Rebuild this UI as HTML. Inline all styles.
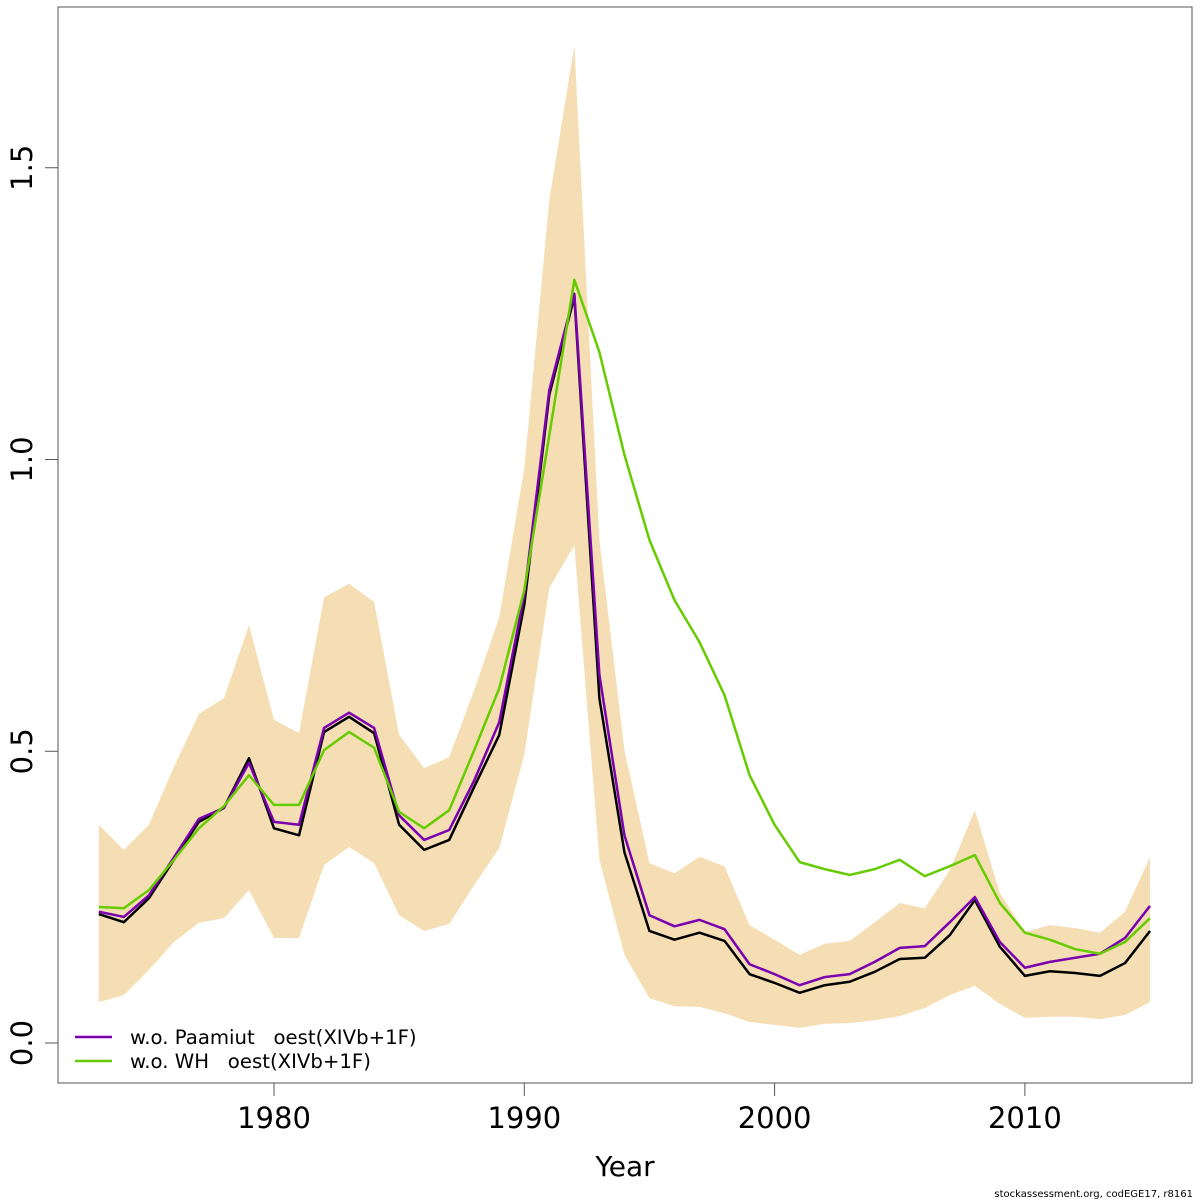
<!DOCTYPE html>
<html><head><meta charset="utf-8"><style>
body{margin:0;background:#fff}
svg{display:block;font-family:"DejaVu Sans","Liberation Sans",sans-serif}
</style></head><body>
<svg id="chart" width="1200" height="1200" viewBox="0 0 1200 1200" xmlns="http://www.w3.org/2000/svg">
<rect width="1200" height="1200" fill="#fff"/>
<g id="band"></g>
<g id="lines"></g>
<rect x="58" y="7" width="1134" height="1076" fill="none" stroke="#555" stroke-width="1"/>
<g id="xaxis"></g>
<g id="yaxis"></g>
<text x="625" y="1176" font-size="28" text-anchor="middle">Year</text>
<text x="1193" y="1197" font-size="10" text-anchor="end">stockassessment.org, codEGE17, r8161</text>
<g>
<line x1="75" y1="1037" x2="112" y2="1037" stroke="#7a00b0" stroke-width="2.5"/>
<text x="130" y="1044" font-size="19.7" xml:space="preserve">w.o. Paamiut   oest(XIVb+1F)</text>
<line x1="75" y1="1061" x2="112" y2="1061" stroke="#66cc00" stroke-width="2.5"/>
<text x="130" y="1068" font-size="19.7" xml:space="preserve">w.o. WH   oest(XIVb+1F)</text>
</g>
</svg>
<script>
const years=[];for(let y=1973;y<=2015;y++)years.push(y);
const baseVals=[0.221,0.207,0.248,0.314,0.379,0.403,0.488,0.368,0.356,0.533,0.559,0.531,0.374,0.331,0.348,0.439,0.528,0.751,1.111,1.279,0.591,0.327,0.192,0.177,0.189,0.175,0.118,0.103,0.086,0.099,0.105,0.122,0.144,0.146,0.185,0.245,0.165,0.115,0.123,0.120,0.115,0.137,0.192];
const paamiutVals=[0.225,0.216,0.253,0.318,0.384,0.403,0.48,0.379,0.374,0.54,0.566,0.54,0.39,0.348,0.365,0.45,0.55,0.768,1.119,1.284,0.631,0.356,0.219,0.2,0.211,0.195,0.135,0.118,0.099,0.113,0.118,0.139,0.163,0.166,0.207,0.25,0.173,0.129,0.139,0.146,0.153,0.18,0.235];
const whVals=[0.233,0.231,0.262,0.314,0.368,0.406,0.459,0.408,0.408,0.502,0.533,0.506,0.396,0.368,0.399,0.502,0.608,0.776,1.042,1.308,1.184,1.008,0.862,0.759,0.687,0.596,0.459,0.374,0.31,0.298,0.288,0.298,0.314,0.286,0.303,0.322,0.24,0.189,0.177,0.161,0.153,0.173,0.214];
const upperVals=[0.374,0.331,0.374,0.473,0.564,0.591,0.716,0.554,0.531,0.764,0.787,0.756,0.528,0.471,0.49,0.605,0.73,0.985,1.445,1.71,0.862,0.502,0.308,0.291,0.319,0.303,0.202,0.177,0.151,0.17,0.175,0.207,0.24,0.231,0.296,0.399,0.257,0.19,0.202,0.197,0.189,0.225,0.319];
const lowerVals=[0.07,0.082,0.125,0.173,0.206,0.214,0.262,0.18,0.18,0.305,0.336,0.308,0.219,0.192,0.204,0.271,0.334,0.494,0.78,0.853,0.314,0.151,0.077,0.063,0.062,0.051,0.036,0.031,0.026,0.033,0.034,0.039,0.046,0.06,0.082,0.098,0.067,0.043,0.045,0.045,0.041,0.048,0.07];
const xTicks=[1980,1990,2000,2010];
const yTicks=[0.0,0.5,1.0,1.5];
const yTickLabels=["0.0","0.5","1.0","1.5"];

const NS="http://www.w3.org/2000/svg";
const xs=y=>274+(y-1980)*25.03;
const ys=v=>1043-v*583.5;
function mk(tag,attrs,parent){const e=document.createElementNS(NS,tag);for(const k in attrs)e.setAttribute(k,attrs[k]);parent.appendChild(e);return e;}

const band=document.getElementById('band');
let pts=years.map((y,i)=>xs(y)+','+ys(upperVals[i]));
for(let i=years.length-1;i>=0;i--)pts.push(xs(years[i])+','+ys(lowerVals[i]));
const poly=mk('polygon',{points:pts.join(' '),fill:'#f5deb3',stroke:'none'},band);



const lines=document.getElementById('lines');
const series=[[baseVals,'#000','base-line'],[paamiutVals,'#7a00b0','paamiut-line'],[whVals,'#66cc00','wh-line']];
for(const [vals,col,name] of series){
  const p=mk('polyline',{points:years.map((y,i)=>xs(y)+','+ys(vals[i])).join(' '),fill:'none',stroke:col,'stroke-width':2.5,'stroke-linejoin':'round'},lines);
  
  
}

const xa=document.getElementById('xaxis');
xTicks.forEach(t=>{
  const l=mk('line',{x1:xs(t),x2:xs(t),y1:1083,y2:1096,stroke:'#555'},xa);
  
  
  const tx=mk('text',{x:xs(t),y:1128,'font-size':29,'text-anchor':'middle'},xa);
  tx.textContent=t;
  
  
});
const ya=document.getElementById('yaxis');
yTicks.forEach((t,i)=>{
  const l=mk('line',{x1:45,x2:58,y1:ys(t),y2:ys(t),stroke:'#555'},ya);
  
  
  const tx=mk('text',{x:0,y:0,'font-size':29,'text-anchor':'middle',transform:`translate(32,${ys(t)}) rotate(-90)`},ya);
  tx.textContent=yTickLabels[i];
  
  
});
</script>
</body></html>
